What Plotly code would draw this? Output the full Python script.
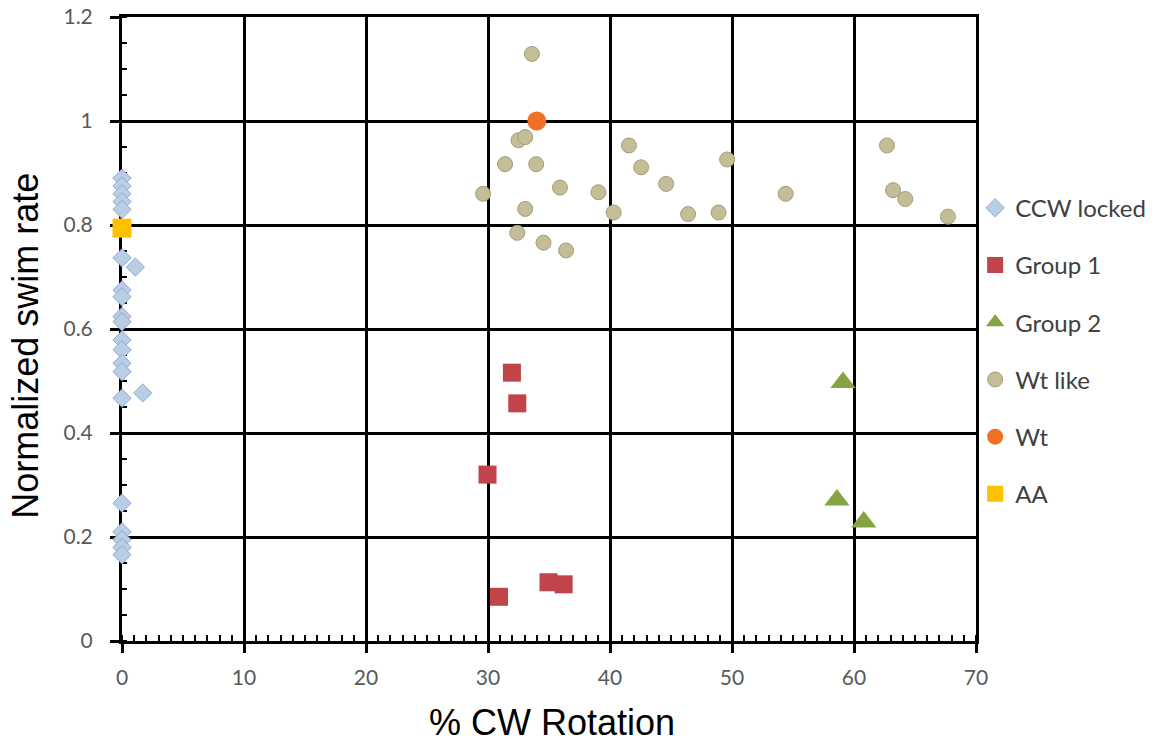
import plotly.graph_objects as go

# % CW rotation and normalized swim rate for each strain class
ccw_x = [0, 0, 0, 0, 0, 0, 1.1, 0, 0, 0, 0, 0, 0, 0, 0, 0, 1.7, 0, 0, 0, 0, 0]
ccw_y = [0.89, 0.875, 0.86, 0.845, 0.83, 0.737, 0.719, 0.675, 0.662, 0.624, 0.614,
         0.579, 0.56, 0.534, 0.518, 0.467, 0.477, 0.265, 0.21, 0.195, 0.18, 0.166]

group1_x = [31.96, 32.4, 29.96, 30.9, 34.96, 36.2]
group1_y = [0.516, 0.457, 0.32, 0.085, 0.113, 0.109]

group2_x = [59.1, 58.6, 60.8]
group2_y = [0.497, 0.271, 0.229]

wtlike_x = [33.6, 32.5, 33.05, 31.4, 33.95, 29.6, 35.9, 39.05, 33.05, 40.3, 32.4,
            34.55, 36.4, 41.55, 42.55, 44.6, 46.4, 48.9, 49.6, 54.4, 62.7, 63.2,
            64.2, 67.7]
wtlike_y = [1.129, 0.963, 0.969, 0.917, 0.917, 0.860, 0.872, 0.863, 0.831, 0.824,
            0.785, 0.766, 0.751, 0.953, 0.911, 0.879, 0.821, 0.824, 0.926, 0.860,
            0.953, 0.867, 0.850, 0.816]

wt_x = [34.0]
wt_y = [1.0]

aa_x = [0.0]
aa_y = [0.794]

x_ticks = [0, 10, 20, 30, 40, 50, 60, 70]
y_ticks = [0, 0.2, 0.4, 0.6, 0.8, 1.0, 1.2]
y_tick_text = ["0", "0.2", "0.4", "0.6", "0.8", "1", "1.2"]

series = [
    ("CCW locked", ccw_x, ccw_y, dict(symbol="diamond", size=14, color="#b9cde5",
                                      line=dict(color="#8ea9d6", width=1))),
    ("Group 1", group1_x, group1_y, dict(symbol="square", size=18, color="#c0444a",
                                         line=dict(width=0))),
    ("Group 2", group2_x, group2_y, dict(symbol="triangle-up", size=22, color="#84a442",
                                         line=dict(width=0))),
    ("Wt like", wtlike_x, wtlike_y, dict(symbol="circle", size=15, color="#c4bd97",
                                         line=dict(color="#a39d78", width=1))),
    ("Wt", wt_x, wt_y, dict(symbol="circle", size=19, color="#f07125",
                            line=dict(width=0))),
    ("AA", aa_x, aa_y, dict(symbol="square", size=19, color="#ffc000",
                            line=dict(width=0))),
]

fig = go.Figure()
for i, (name, xs, ys, marker) in enumerate(series):
    fig.add_trace(go.Scatter(
        x=xs, y=ys, mode="markers", name=name, marker=marker,
        cliponaxis=False, legendgroup=f"g{i}", hoverinfo="skip",
    ))

tick_font = dict(family="Lato, Liberation Sans, sans-serif", size=21, color="#595959")
title_font = dict(family="Liberation Sans, Arial, sans-serif", size=36, color="#000000")

fig.update_layout(
    width=1154, height=747,
    margin=dict(l=121.5, r=178, t=17, b=106, autoexpand=False),
    paper_bgcolor="white", plot_bgcolor="white",
    showlegend=True,
    legend=dict(
        x=0.999, xanchor="left", y=0.7296, yanchor="top",
        font=dict(family="Lato, Liberation Sans, sans-serif", size=24, color="#404040"),
        tracegroupgap=23, itemsizing="trace", bgcolor="rgba(0,0,0,0)",
    ),
    xaxis=dict(
        range=[0, 70], tickvals=x_ticks, ticks="outside", ticklen=9, tickwidth=3,
        tickcolor="black", showgrid=True, gridcolor="black", gridwidth=3,
        showline=True, linecolor="black", linewidth=3, mirror=True,
        zeroline=False, tickfont=tick_font, ticklabelstandoff=7, automargin=False,
        minor=dict(dtick=1, ticks="inside", ticklen=6, tickwidth=2,
                   tickcolor="black", showgrid=False),
        layer="below traces",
    ),
    yaxis=dict(
        range=[0, 1.2], tickvals=y_ticks, ticktext=y_tick_text, ticks="outside",
        ticklen=9, tickwidth=3, tickcolor="black", showgrid=True,
        gridcolor="black", gridwidth=3, showline=True, linecolor="black",
        linewidth=3, mirror=True, zeroline=False, tickfont=tick_font,
        ticklabelstandoff=13, automargin=False,
        minor=dict(dtick=0.05, ticks="inside", ticklen=5, tickwidth=2,
                   tickcolor="black", showgrid=False),
        layer="below traces",
    ),
    annotations=[
        dict(text="% CW Rotation", xref="paper", yref="paper", x=0.504, y=-0.13,
             xanchor="center", yanchor="middle", showarrow=False, font=title_font),
        dict(text="Normalized swim rate", xref="paper", yref="paper", x=-0.113,
             y=0.474, xanchor="center", yanchor="middle", textangle=-90,
             showarrow=False, font=title_font),
    ],
)

fig.write_html("out.html")
